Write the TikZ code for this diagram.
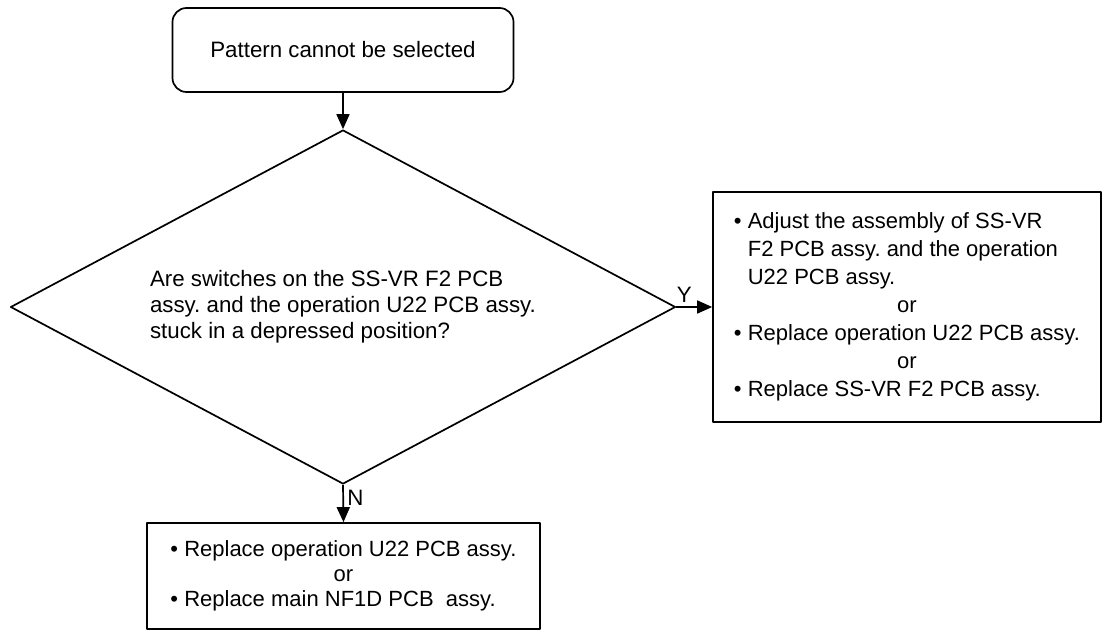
\documentclass[tikz,border=0pt]{standalone}
\usepackage{fontspec}
\setmainfont{Liberation Sans}
\usetikzlibrary{shapes.geometric,arrows.meta}
\newcommand{\hang}{\phantom{\textbullet\ }}
\frenchspacing
\begin{document}
\begin{tikzpicture}[x=1pt, y=-1pt, line width=1.7pt, line join=round, >={Triangle[length=15pt,width=13pt]},
	every node/.style={font=\fontsize{22.3}{26}\selectfont},
	startbox/.style={draw, rounded corners=14pt, minimum width=341pt, minimum height=84pt},
	testbox/.style={draw, diamond, aspect=1.88, minimum width=665pt, minimum height=354pt, align=left, inner sep=0pt},
	fixbox/.style={draw, inner sep=0pt}]
	\useasboundingbox (0,0) rectangle (1103,632);
	\path (343,50) coordinate (P)
	(343,307) coordinate (Q)
	(907,307) coordinate (R)
	(343.5,576) coordinate (T);
	\node[startbox] (start) at (P) {Pattern cannot be selected};
	\node[testbox] (test) at (Q) {Are switches on the SS-VR F2 PCB\\assy. and the operation U22 PCB assy.\\stuck in a depressed position?};
	\node[fixbox, minimum width=388pt, minimum height=230pt, font=\fontsize{22}{28}\selectfont] (yes) at (R)
	{\begin{tabular}{@{}l@{}}
		\textbullet\ Adjust the assembly of SS-VR\\
		\hang F2 PCB assy. and the operation\\
		\hang U22 PCB assy.\\
		\multicolumn{1}{@{}c@{}}{or}\\
		\textbullet\ Replace operation U22 PCB assy.\\
		\multicolumn{1}{@{}c@{}}{or}\\
		\textbullet\ Replace SS-VR F2 PCB assy.
	\end{tabular}};
	\node[fixbox, minimum width=393pt, minimum height=106pt, font=\fontsize{22}{25}\selectfont] (no) at (T)
	{\begin{tabular}{@{}l@{}}
		\textbullet\ Replace operation U22 PCB assy.\\
		\multicolumn{1}{@{}c@{}}{or}\\
		\textbullet\ Replace main NF1D PCB\ \ assy.
	\end{tabular}};
	\draw[->] (start) -- (test);
	\draw[->] (test.east) -- node[above, pos=0.22]{Y} (yes.west);
	\draw[->] (test.south) -- node[right, pos=0.35]{N} (no.north);
\end{tikzpicture}
\end{document}
